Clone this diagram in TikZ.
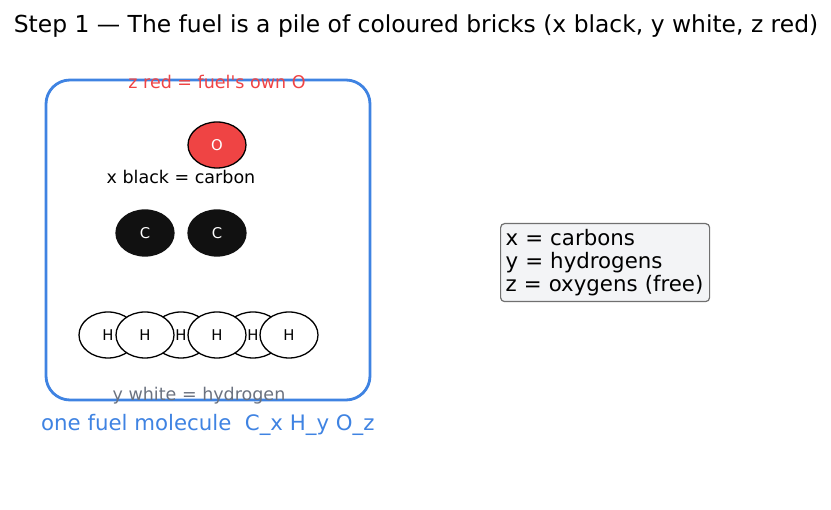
\documentclass[tikz,border=0pt]{standalone}
\usepackage{fontspec}
\setmainfont{DejaVu Sans}
\usetikzlibrary{shapes.geometric}
\definecolor{boxblue}{HTML}{3F83E2}
\definecolor{ored}{HTML}{EF4444}
\definecolor{txtgray}{HTML}{6B7280}
\definecolor{legfill}{HTML}{F3F4F6}
\definecolor{legdraw}{HTML}{707070}
\definecolor{cblack}{HTML}{111111}
\tikzset{
  atom/.style={ellipse, draw=black, line width=1.3pt, minimum width=58pt, minimum height=46pt, inner sep=0pt, font=\fontsize{14.8}{16}\selectfont},
  hatom/.style={atom, fill=white, text=black},
  catom/.style={atom, fill=cblack, draw=cblack, text=white},
  oatom/.style={atom, fill=ored, text=white},
  lbl/.style={font=\fontsize{17.5}{20}\selectfont, inner sep=0pt},
}
\begin{document}
\begin{tikzpicture}[x=1pt,y=-1pt]
\useasboundingbox (0,0) rectangle (831,510);
\node[font=\fontsize{23.4}{26}\selectfont, inner sep=0pt] (title) at (416,26) {Step 1 — The fuel is a pile of coloured bricks (x black, y white, z red)};
\draw[boxblue, line width=2.8pt, rounded corners=24pt] (46,80) rectangle (370,400);
\node[lbl, text=ored] (zlbl) at (217,82) {z red = fuel\textquotesingle s own O};
\node[oatom] (o1) at (217,145) {O};
\node[lbl, text=black] (xlbl) at (181,177) {x black = carbon};
\node[catom] (c1) at (145,233) {C};
\node[catom] (c2) at (217,233) {C};
\node[hatom] (h1) at (108,335) {H};
\node[hatom] (h3) at (181,335) {H};
\node[hatom] (h5) at (253,335) {H};
\node[hatom] (h2) at (145,335) {H};
\node[hatom] (h4) at (217,335) {H};
\node[hatom] (h6) at (289,335) {H};
\node[lbl, text=txtgray] (ylbl) at (199,396) {y white = hydrogen};
\node[font=\fontsize{21.3}{24}\selectfont, text=boxblue, inner sep=0pt, anchor=west] (mol) at (41,425) {one fuel molecule\ \ C\_x H\_y O\_z};
\node[draw=legdraw, fill=legfill, line width=1.2pt, rounded corners=4pt, align=left, anchor=north west, minimum width=209pt, minimum height=78pt, text width=199pt, inner xsep=5pt, inner ysep=3.5pt, font=\fontsize{21.3}{23}\selectfont] (leg) at (500,223) {x = carbons\\y = hydrogens\\z = oxygens (free)};
\end{tikzpicture}
\end{document}
